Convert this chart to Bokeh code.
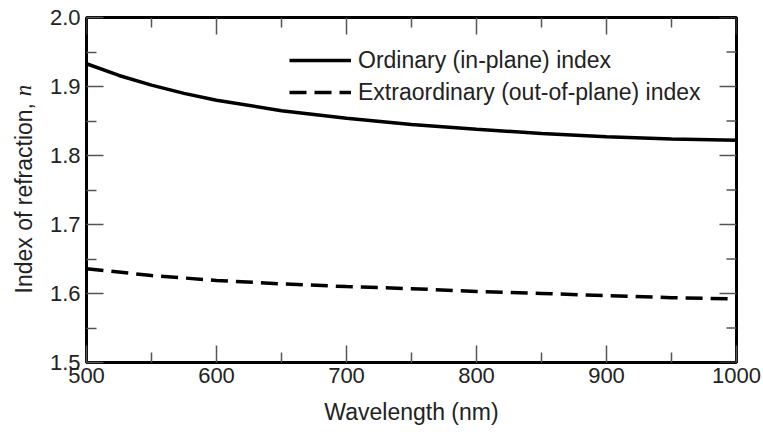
import math

from bokeh.core.properties import value
from bokeh.embed import file_html
from bokeh.layouts import row
from bokeh.models import FixedTicker, Legend, LegendItem, LinearAxis, PrintfTickFormatter, Range1d
from bokeh.plotting import figure
from bokeh.resources import INLINE

# Refractive index of a uniaxial film versus wavelength
wl_ordinary = [500, 525, 550, 575, 600, 650, 700, 750, 800, 850, 900, 950, 1000]
n_ordinary = [1.933, 1.916, 1.902, 1.890, 1.880, 1.865, 1.854, 1.845, 1.838, 1.832, 1.827, 1.824, 1.822]

wl_extraordinary = [500, 550, 600, 650, 700, 750, 800, 850, 900, 950, 1000]
n_extraordinary = [1.636, 1.626, 1.619, 1.614, 1.610, 1.607, 1.603, 1.600, 1.597, 1.594, 1.592]

series_labels = ["Ordinary (in-plane) index", "Extraordinary (out-of-plane) index"]
y_title = "Index of refraction,"
y_symbol = "n"

x_ticks = [500, 600, 700, 800, 900, 1000]
x_minor_ticks = [550, 650, 750, 850, 950]
y_ticks = [1.5, 1.6, 1.7, 1.8, 1.9, 2.0]
y_minor_ticks = [1.55, 1.65, 1.75, 1.85, 1.95]

X_MIN, X_MAX = 500, 1000
Y_MIN, Y_MAX = 1.5, 2.0

FONT = "Liberation Sans"
TEXT_COLOR = "#222222"
TICK_COLOR = "#555555"
MAJOR_LEN, MINOR_LEN = 17, 10
TITLE_STRIP_W = 40
TOTAL_W, TOTAL_H = 763, 432
BORDER_TOP, BORDER_BOTTOM = 17, 70

p = figure(
    width=TOTAL_W - TITLE_STRIP_W, height=TOTAL_H,
    output_backend="svg", toolbar_location=None,
    x_range=Range1d(X_MIN, X_MAX), y_range=Range1d(Y_MIN, Y_MAX),
    x_axis_location=None, y_axis_location=None,
    min_border_left=46, min_border_right=27,
    min_border_top=BORDER_TOP, min_border_bottom=BORDER_BOTTOM,
    background_fill_color="white", border_fill_color="white",
)
p.grid.visible = False
p.outline_line_color = "black"
p.outline_line_width = 3


def style_axis(axis):
    axis.axis_line_color = None
    axis.major_tick_in = MAJOR_LEN
    axis.major_tick_out = 0
    axis.minor_tick_in = MINOR_LEN
    axis.minor_tick_out = 0
    axis.major_tick_line_color = TICK_COLOR
    axis.minor_tick_line_color = TICK_COLOR
    axis.major_tick_line_width = 1.5
    axis.minor_tick_line_width = 1.5
    axis.major_label_text_font = FONT
    axis.major_label_text_font_size = "22px"
    axis.major_label_text_color = TEXT_COLOR


x_bottom = LinearAxis(ticker=FixedTicker(ticks=x_ticks, minor_ticks=x_minor_ticks),
                      axis_label="Wavelength (nm)")
style_axis(x_bottom)
x_bottom.major_label_standoff = 5
x_bottom.axis_label_standoff = 13
x_bottom.axis_label_text_font = FONT
x_bottom.axis_label_text_font_size = "23px"
x_bottom.axis_label_text_font_style = "normal"
x_bottom.axis_label_text_color = TEXT_COLOR
p.add_layout(x_bottom, "below")

y_left = LinearAxis(ticker=FixedTicker(ticks=y_ticks, minor_ticks=y_minor_ticks),
                    formatter=PrintfTickFormatter(format="%.1f"))
style_axis(y_left)
y_left.major_label_standoff = 6
p.add_layout(y_left, "left")

# Mirrored inward ticks along the top and right edges of the frame
tick_style = dict(line_color=TICK_COLOR, line_width=1.5, length_units="screen")
p.ray(x=x_ticks, y=[Y_MAX] * len(x_ticks), length=MAJOR_LEN, angle=-math.pi / 2, **tick_style)
p.ray(x=x_minor_ticks, y=[Y_MAX] * len(x_minor_ticks), length=MINOR_LEN, angle=-math.pi / 2, **tick_style)
p.ray(x=[X_MAX] * len(y_ticks), y=y_ticks, length=MAJOR_LEN, angle=math.pi, **tick_style)
p.ray(x=[X_MAX] * len(y_minor_ticks), y=y_minor_ticks, length=MINOR_LEN, angle=math.pi, **tick_style)

r_ord = p.line(wl_ordinary, n_ordinary, line_color="black", line_width=3.5)
r_ext = p.line(wl_extraordinary, n_extraordinary, line_color="black", line_width=3.5,
               line_dash="17 8")

legend = Legend(
    items=[LegendItem(label=series_labels[0], renderers=[r_ord]),
           LegendItem(label=series_labels[1], renderers=[r_ext])],
    location=(203, 256),
    border_line_color=None, background_fill_alpha=0,
    padding=0, margin=0, spacing=4,
    glyph_width=62, glyph_height=28, label_height=28, label_standoff=7,
    label_text_font=FONT, label_text_font_size="23px", label_text_color=TEXT_COLOR,
)
p.add_layout(legend)

# Narrow strip on the left carrying the vertical axis title ("n" in italic serif);
# it shares the main plot's vertical borders and y range, so its frame lines up.
strip = figure(
    width=TITLE_STRIP_W, height=TOTAL_H,
    output_backend="svg", toolbar_location=None,
    x_range=Range1d(0, TITLE_STRIP_W), y_range=Range1d(Y_MIN, Y_MAX),
    x_axis_location=None, y_axis_location=None,
    min_border_left=0, min_border_right=0,
    min_border_top=BORDER_TOP, min_border_bottom=BORDER_BOTTOM,
    outline_line_color=None,
    background_fill_color="white", border_fill_color="white",
)
strip.grid.visible = False
strip.text(x=[23], y=[1.6], text=[y_title], angle=math.pi / 2,
           text_align="left", text_baseline="alphabetic",
           text_font=value(FONT), text_font_size="23px", text_color=TEXT_COLOR)
strip.text(x=[23], y=[1.886], text=[y_symbol], angle=math.pi / 2,
           text_align="left", text_baseline="alphabetic",
           text_font=value("Liberation Serif"), text_font_style="italic",
           text_font_size="23px", text_color=TEXT_COLOR)

layout = row(strip, p, spacing=0)
open("out.html", "w").write(file_html(layout, INLINE))
